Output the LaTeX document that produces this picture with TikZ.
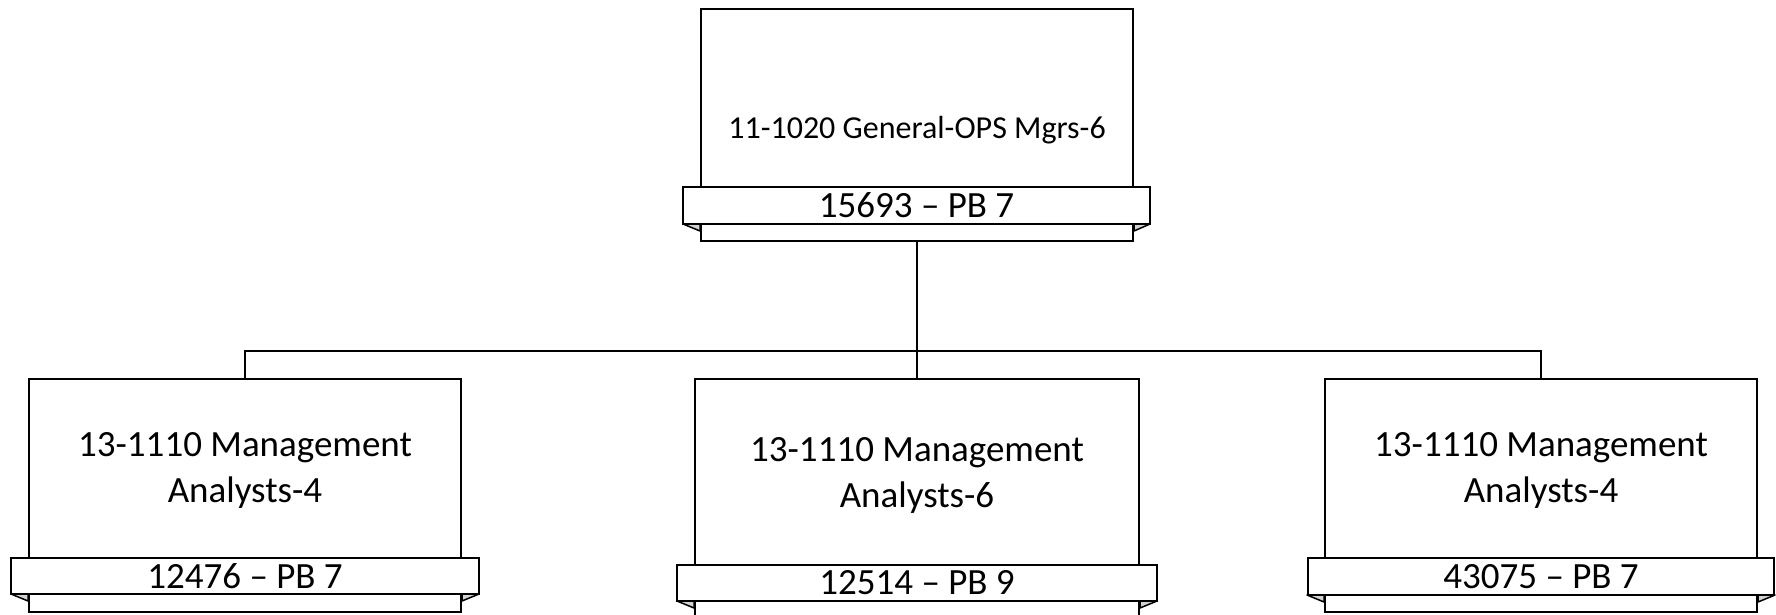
\documentclass[tikz,border=0pt]{standalone}
\usepackage{fontspec}
\setmainfont{Carlito}

\begin{document}
\begin{tikzpicture}[x=1pt,y=-1pt]
%style for position box
\tikzstyle{jobbox} = [rectangle, draw=black, line width=2pt, fill=white, inner sep=0pt]

%style for pay band ribbon
\tikzstyle{ribbon} = [rectangle, draw=black, line width=2pt, fill=white, minimum height=37pt, inner sep=0pt, font=\fontsize{37}{44}\selectfont]

%style for ribbon fold
\tikzstyle{fold} = [draw=black, line width=1.5pt, fill=gray!35, line join=round]

%style for title text
\tikzstyle{title} = [align=center, inner sep=0pt, font=\fontsize{37}{46}\selectfont]

%style for connector
\tikzstyle{link} = [draw=black, line width=2.5pt]

\useasboundingbox (0,0) rectangle (1776,615);

%place nodes
\node[jobbox, minimum width=432pt, minimum height=232pt] (ops) at (917,125) {};
\node[jobbox, minimum width=432pt, minimum height=233pt] (ana1) at (245,495.5) {};
\node[jobbox, minimum width=444pt, minimum height=250pt] (ana2) at (917,504) {};
\node[jobbox, minimum width=432pt, minimum height=233pt] (ana3) at (1541,495.5) {};

\node[title, font=\fontsize{32}{38}\selectfont] (opsT) at (917,130) {11-1020 General-OPS Mgrs-6};
\node[title] (ana1T) at (245,470) {13-1110 Management\\Analysts-4};
\node[title] (ana2T) at (917,475) {13-1110 Management\\Analysts-6};
\node[title] (ana3T) at (1541,470) {13-1110 Management\\Analysts-4};

% ribbon folds
\draw[fold] (683,224) -- (ops.west |- 0,224) -- ++(0,7) -- cycle;
\draw[fold] (1150,224) -- (ops.east |- 0,224) -- ++(0,7) -- cycle;
\draw[fold] (11,594) -- (ana1.west |- 0,594) -- ++(0,7) -- cycle;
\draw[fold] (479,594) -- (ana1.east |- 0,594) -- ++(0,7) -- cycle;
\draw[fold] (677,601) -- (ana2.west |- 0,601) -- ++(0,7) -- cycle;
\draw[fold] (1157,601) -- (ana2.east |- 0,601) -- ++(0,7) -- cycle;
\draw[fold] (1307,595) -- (ana3.west |- 0,595) -- ++(0,7) -- cycle;
\draw[fold] (1775,595) -- (ana3.east |- 0,595) -- ++(0,7) -- cycle;

\node[ribbon, minimum width=467pt] (opsR) at (916.5,205.5) {15693 -- PB 7};
\node[ribbon, minimum width=468pt, minimum height=36pt] (ana1R) at (245,576) {12476 -- PB 7};
\node[ribbon, minimum width=480pt, minimum height=36pt] (ana2R) at (917,583) {12514 -- PB 9};
\node[ribbon, minimum width=466pt] (ana3R) at (1541,576.5) {43075 -- PB 7};

%connect nodes with lines
\coordinate (bus) at (917,351);
\draw[link] (ops) -- (bus);
\draw[link] (bus) -| (ana1);
\draw[link] (bus) -- (ana2);
\draw[link] (bus) -| (ana3);
\end{tikzpicture}
\end{document}
